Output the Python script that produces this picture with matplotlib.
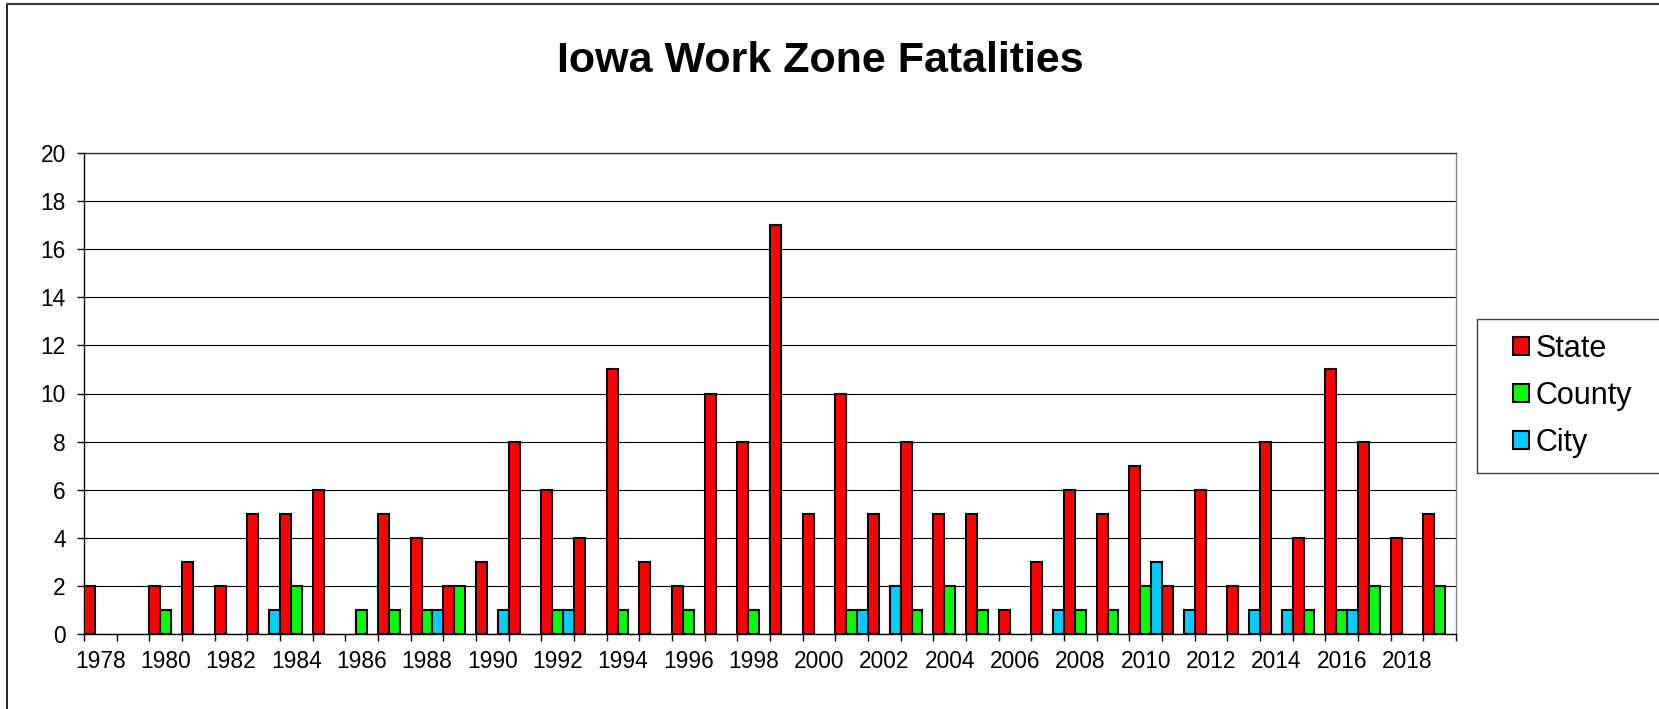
import numpy as np
import matplotlib
matplotlib.use("Agg")
import matplotlib.pyplot as plt
from matplotlib.patches import Patch, Rectangle
from matplotlib.lines import Line2D

plt.rcParams['font.family'] = ['Liberation Sans', 'DejaVu Sans']

years = list(range(1978, 2020))
state = [2, 0, 2, 3, 2, 5, 5, 6, 0, 5, 4, 2, 3, 8, 6, 4, 11, 3, 2, 10, 8, 17, 5, 10,
         5, 8, 5, 5, 1, 3, 6, 5, 7, 2, 6, 2, 8, 4, 11, 8, 4, 5]
county = [0, 0, 1, 0, 0, 0, 2, 0, 1, 1, 1, 2, 0, 0, 1, 0, 1, 0, 1, 0, 1, 0, 0, 1,
          0, 1, 2, 1, 0, 0, 1, 1, 2, 0, 0, 0, 0, 1, 1, 2, 0, 2]
city = [0, 0, 0, 0, 0, 1, 0, 0, 0, 0, 1, 0, 1, 0, 1, 0, 0, 0, 0, 0, 0, 0, 0, 1,
        2, 0, 0, 0, 0, 1, 0, 0, 3, 1, 0, 1, 1, 0, 1, 0, 0, 0]
series_names = ['State', 'County', 'City']
series_colors = ['#FF0000', '#00FF00', '#00CCFF']
yticks = list(range(0, 21, 2))
title = 'Iowa Work Zone Fatalities'

W, H = 1659, 709
fig = plt.figure(figsize=(W / 100, H / 100), dpi=100)
ax = fig.add_axes([84 / W, 1 - 634.3 / H, (1456 - 84) / W, (634.3 - 152.7) / H])

n = len(years)
idx = np.arange(n)
bw = 1 / 3
handles = []
for k, (vals, name, col) in enumerate(zip([state, county, city], series_names, series_colors)):
    v = np.array(vals, dtype=float)
    v = np.where(v > 0, v, np.nan)
    ax.bar(idx + bw * (k + 0.5), v, width=bw, color=col, edgecolor='black',
           linewidth=1.5, zorder=3)
    handles.append(Patch(facecolor=col, edgecolor='black', linewidth=1.5, label=name))

ax.set_xlim(0, n)
ax.set_ylim(0, 20)
ax.set_yticks(yticks)
ax.yaxis.grid(True, color='black', linewidth=0.8, zorder=0)
ax.set_axisbelow(True)

ax.set_xticks(np.arange(0, n + 1))
ax.set_xticklabels([])
lab_pos = [i + 0.5 for i, y in enumerate(years) if y % 2 == 0]
lab_txt = [str(y) for y in years if y % 2 == 0]
ax.set_xticks(lab_pos, minor=True)
ax.set_xticklabels(lab_txt, minor=True)
ax.tick_params(axis='x', which='minor', length=0, pad=11, labelsize=16.4)
ax.tick_params(axis='x', which='major', length=5, width=1, direction='out')
ax.tick_params(axis='y', length=5, width=1, direction='out', pad=8, labelsize=16.4)

for s in ['left', 'bottom']:
    ax.spines[s].set_color('black')
    ax.spines[s].set_linewidth(1.0)
ax.spines['top'].set_color('#303030')
ax.spines['top'].set_linewidth(1.0)
ax.spines['right'].set_color('#808080')
ax.spines['right'].set_linewidth(1.0)

fig.text(557 / W, 1 - 71.7 / H, title, ha='left', va='baseline',
         fontsize=31, fontweight='bold')

# chart-area border (only top and left visible)
fig.add_artist(Line2D([7 / W, 7 / W], [0, 1 - 4 / H], transform=fig.transFigure,
                      color='black', linewidth=1.2))
fig.add_artist(Line2D([7 / W, 1], [1 - 4 / H, 1 - 4 / H], transform=fig.transFigure,
                      color='#404040', linewidth=1.5))

# legend box
fig.add_artist(Rectangle((1477 / W, 1 - 473 / H), (W - 1477 + 20) / W, (473 - 319) / H,
                         transform=fig.transFigure, facecolor='none',
                         edgecolor='#404040', linewidth=1.0))
leg = fig.legend(handles=handles, loc='center left',
                 bbox_to_anchor=(1512.7 / W, 1 - 396 / H), frameon=False,
                 fontsize=22, handlelength=0.52, handleheight=0.52,
                 handletextpad=0.23, labelspacing=0.55, borderpad=0,
                 borderaxespad=0)

fig.savefig('out.png', dpi=100, facecolor='white')
